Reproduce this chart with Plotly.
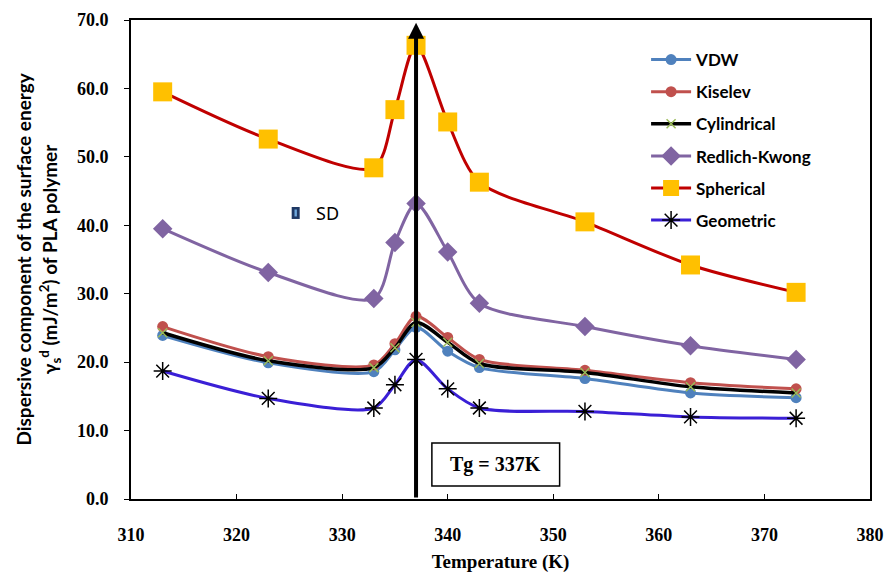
import plotly.graph_objects as go

temperature = [313, 323, 333, 335, 337, 340, 343, 353, 363, 373]
vdw = [23.9, 19.9, 18.6, 21.8, 25.1, 21.6, 19.2, 17.6, 15.5, 14.8]
kiselev = [25.2, 20.8, 19.6, 22.7, 26.7, 23.6, 20.4, 18.8, 17.0, 16.1]
cylindrical = [24.3, 20.2, 19.2, 22.1, 25.8, 22.9, 19.8, 18.5, 16.4, 15.5]
redlich_kwong = [39.5, 33.1, 29.3, 37.5, 43.2, 36.1, 28.6, 25.2, 22.4, 20.4]
spherical = [59.5, 52.6, 48.4, 56.9, 66.3, 55.1, 46.3, 40.5, 34.2, 30.2]
geometric = [18.7, 14.7, 13.3, 16.7, 20.4, 16.1, 13.3, 12.8, 12.0, 11.8]

x_ticks = [310, 320, 330, 340, 350, 360, 370, 380]
y_ticks = [0, 10, 20, 30, 40, 50, 60, 70]

serif = "Liberation Serif"
sans = "Lato"

fig = go.Figure()

def add(name, y, line_color, marker, lw=3):
    fig.add_trace(go.Scatter(
        x=temperature, y=y, name=name, mode="lines+markers",
        line=dict(color=line_color, width=lw, shape="spline", smoothing=0.8),
        marker=marker, legendgroup=name,
    ))

add("VDW", vdw, "#4F81BD", dict(symbol="circle", size=11, color="#4F81BD"))
add("Kiselev", kiselev, "#C0504D", dict(symbol="circle", size=11, color="#C0504D"))
add("Cylindrical", cylindrical, "#000000",
    dict(symbol="x-thin-open", size=9, color="#9BBB59", line=dict(color="#9BBB59", width=1.5)), lw=3.5)
add("Redlich-Kwong", redlich_kwong, "#8064A2", dict(symbol="diamond", size=15, color="#8064A2"))
add("Spherical", spherical, "#C00000", dict(symbol="square", size=19, color="#FFC000"))
add("Geometric", geometric, "#3A1FD6",
    dict(symbol="asterisk-open", size=15, color="#000000", line=dict(color="#000000", width=1.5)))

# Tg arrow
fig.add_annotation(x=337, y=69.6, ax=337, ay=0, xref="x", yref="y", axref="x", ayref="y",
                   showarrow=True, arrowhead=2, arrowsize=0.8, arrowwidth=4, arrowcolor="#000000", text="")

# Tg box
fig.add_shape(type="rect", xref="x", yref="y", x0=338.5, x1=350.6, y0=1.9, y1=8.2,
              line=dict(color="#000000", width=1.5), fillcolor="white")
fig.add_annotation(x=344.55, y=5.05, xref="x", yref="y", text="<b>Tg = 337K</b>", showarrow=False,
                   font=dict(family=serif, size=20, color="#000000"))

# SD marker
fig.add_shape(type="rect", xref="x", yref="y", xsizemode="pixel", ysizemode="pixel",
              xanchor=325.6, yanchor=41.8, x0=-4, x1=4, y0=-6, y1=6,
              fillcolor="#1F3864", line=dict(color="#1F3864", width=0))
fig.add_shape(type="rect", xref="x", yref="y", xsizemode="pixel", ysizemode="pixel",
              xanchor=325.6, yanchor=41.8, x0=-1.2, x1=1.2, y0=-3.5, y1=3.5,
              fillcolor="#6FA8DC", line=dict(color="#6FA8DC", width=0))
fig.add_annotation(x=327.3, y=41.8, xref="x", yref="y", text="SD", showarrow=False, xanchor="left",
                   font=dict(family="Noto Sans", size=18, color="#000000"))

# Y title (two lines)
fig.add_annotation(x=-0.146, y=0.5, xref="paper", yref="paper", textangle=-90, showarrow=False,
                   xanchor="center", yanchor="middle",
                   text="<b>Dispersive component of the surface energy</b>",
                   font=dict(family=sans, size=19, color="#000000"))
fig.add_annotation(x=-0.11, y=0.5, xref="paper", yref="paper", textangle=-90, showarrow=False,
                   xanchor="center", yanchor="middle",
                   text="<b>γ<sub>s</sub><sup>d</sup> (mJ/m<sup>2</sup>) of PLA polymer</b>",
                   font=dict(family=sans, size=19, color="#000000"))

fig.update_layout(
    width=888, height=574,
    margin=dict(l=131, r=18, t=20, b=75),
    paper_bgcolor="white", plot_bgcolor="white",
    showlegend=True,
    legend=dict(x=0.697, y=0.954, xanchor="left", yanchor="top", bgcolor="rgba(0,0,0,0)",
                font=dict(family=sans, size=17, color="#000000", weight="bold"), tracegroupgap=7,
                itemwidth=40),
    xaxis=dict(range=[310, 380], tickvals=x_ticks, ticktext=[str(v) for v in x_ticks],
               showgrid=False, zeroline=False, showline=True, linecolor="#000000", linewidth=2,
               mirror=True, ticks="inside", ticklen=5, tickcolor="#000000", automargin=False,
               ticklabeloverflow="allow",
               tickfont=dict(family=serif, size=18, color="#000000", weight="bold"), ticklabelstandoff=18,
               title=dict(text="<b>Temperature (K)</b>", font=dict(family=serif, size=19, color="#000000"),
                          standoff=11)),
    yaxis=dict(range=[0, 70], tickvals=y_ticks, ticktext=[f"{v:.1f}" for v in y_ticks],
               showgrid=False, zeroline=False, showline=True, linecolor="#000000", linewidth=2,
               mirror=True, ticks="outside", ticklen=5, tickcolor="#000000", automargin=False,
               tickfont=dict(family=serif, size=18, color="#000000", weight="bold"), ticklabelstandoff=12),
)
fig.write_html("out.html", config={"displayModeBar": False},
               post_script="document.body.style.margin='0';document.body.style.overflow='hidden';")
